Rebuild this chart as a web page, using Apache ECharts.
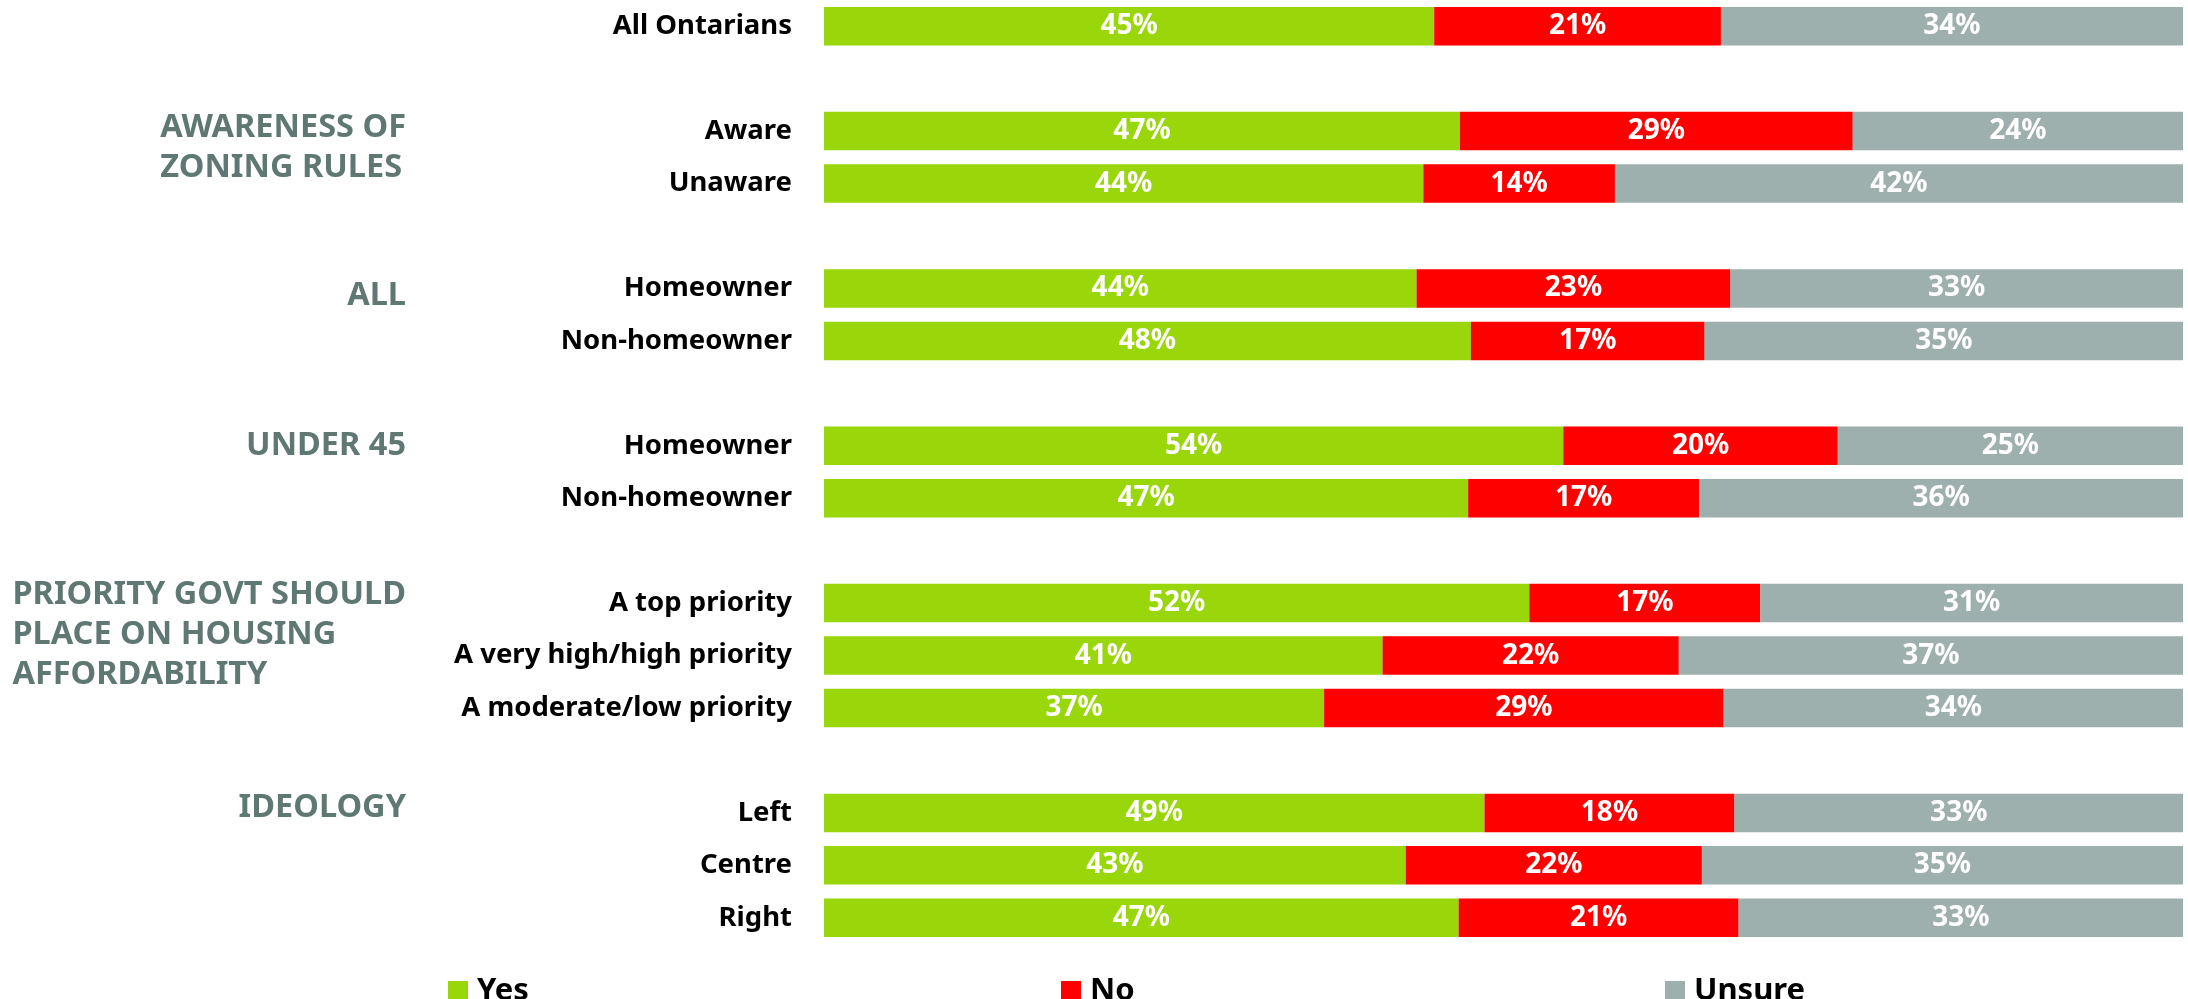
<!DOCTYPE html>
<html><head><meta charset="utf-8">
<script src="https://cdn.jsdelivr.net/npm/echarts@6/dist/echarts.min.js"></script>
<style>html,body{margin:0;padding:0;background:#fff}#c{width:2188px;height:999px}</style>
</head><body><div id="c"></div>
<script>
const rowLabels = ['All Ontarians','','Aware','Unaware','','Homeowner','Non-homeowner','','Homeowner','Non-homeowner','','A top priority','A very high/high priority','A moderate/low priority','','Left','Centre','Right'];
const yesValues    = [44.9,null,46.8,44.1,null,43.6,47.6,null,54.4,47.4,null,51.9,41.1,36.8,null,48.6,42.8,46.7];
const noValues     = [21.1,null,28.9,14.1,null,23.1,17.2,null,20.2,17.0,null,17.0,21.8,29.4,null,18.4,21.8,20.6];
const unsureValues = [34.0,null,24.3,41.8,null,33.3,35.2,null,25.4,35.6,null,31.1,37.1,33.8,null,33.0,35.4,32.7];
const seriesNames = ['Yes','No','Unsure'];
const seriesColors = ['#99D60A','#FF0000','#9EB0AE'];
const groupTitles = ['AWARENESS OF\nZONING RULES','ALL','UNDER 45','PRIORITY GOVT SHOULD\nPLACE ON HOUSING\nAFFORDABILITY','IDEOLOGY'];
const groupFirstRows = [2,5,8,11,15];

const FONT = '"Noto Sans"';
const valueLists = [yesValues, noValues, unsureValues];

const chart = echarts.init(document.getElementById('c'), null, {renderer: 'canvas'});
const series = valueLists.map((vals, k) => ({
  name: seriesNames[k],
  type: 'bar',
  stack: 'total',
  barWidth: 38.5,
  itemStyle: {color: seriesColors[k]},
  label: {
    show: true, position: 'inside', color: '#fff',
    fontFamily: FONT, fontWeight: 'bold', fontSize: 28,
    formatter: p => Math.round(p.value) + '%'
  },
  data: vals.map(v => v == null ? '-' : v)
}));

const legendLeft = [443, 1056, 1660];
const legends = seriesNames.map((n, k) => ({
  data: [n], left: legendLeft[k], top: 963,
  itemWidth: 20, itemHeight: 20, icon: 'rect', selectedMode: false,
  textStyle: {fontFamily: FONT, fontWeight: 'bold', fontSize: 31, lineHeight: 32, color: '#000', padding: [0, 0, 14, 4]}
}));

chart.setOption({
  animation: false,
  grid: {left: 824, right: 5, top: 0, height: 944},
  xAxis: {type: 'value', min: 0, max: 100, show: false},
  yAxis: {
    type: 'category', inverse: true, data: rowLabels,
    axisLine: {show: false}, axisTick: {show: false},
    axisLabel: {margin: 32, color: '#000', fontFamily: FONT, fontWeight: 'bold', fontSize: 27.5}
  },
  legend: legends,
  series: series
});

// group titles placed from the category scale
const titleShift = [-3, 7, 0, -8, -5];
const graphics = groupTitles.map((t, g) => {
  const y = chart.convertToPixel({yAxisIndex: 0}, groupFirstRows[g]);
  return {
    type: 'text', right: 2188 - 406, top: y + titleShift[g] - 20,
    style: {text: t, align: 'right', verticalAlign: 'top', fill: '#5F7873',
      font: 'bold 32.5px ' + FONT, lineHeight: 40}
  };
});
chart.setOption({graphic: graphics});
</script></body></html>
